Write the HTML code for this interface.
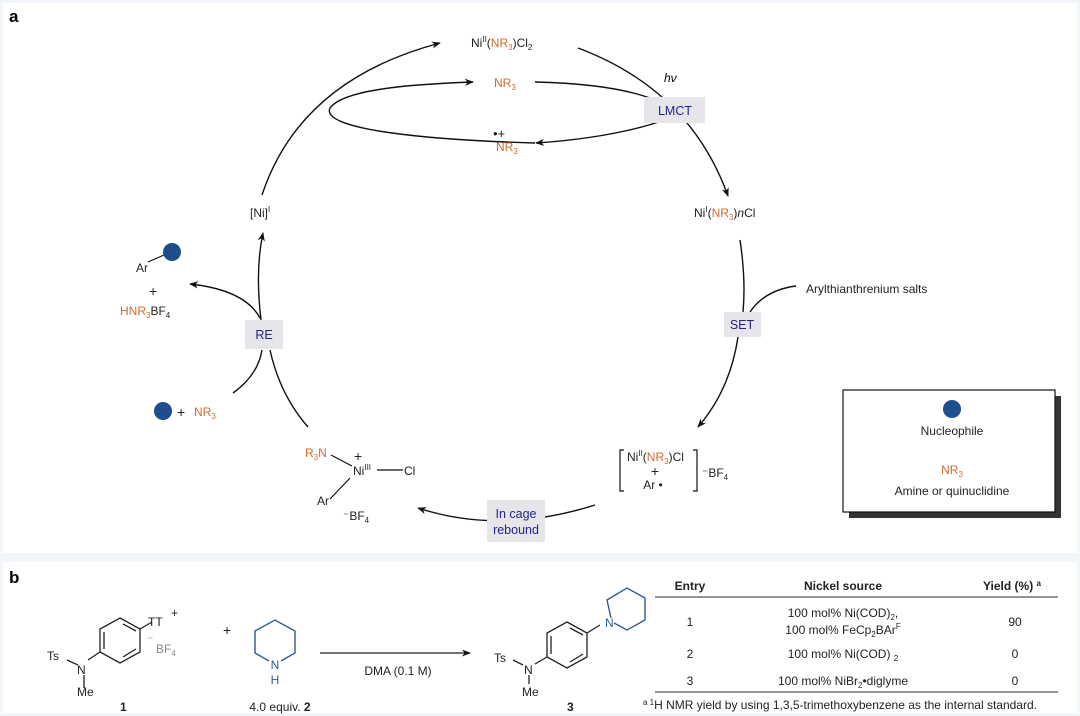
<!DOCTYPE html>
<html><head><meta charset="utf-8"><style>
html,body{margin:0;padding:0;background:#fff;}
svg{display:block;font-family:"Liberation Sans",Arial,sans-serif;}
.t{font-size:12px;fill:#222}
.o{fill:#d2692d !important}.b{fill:#22238a}
</style></head><body>
<svg width="1080" height="716" viewBox="0 0 1080 716" xmlns="http://www.w3.org/2000/svg">
<defs>
<marker id="a" viewBox="0 0 10 10" refX="9" refY="5" markerWidth="9" markerHeight="9" orient="auto-start-reverse" markerUnits="userSpaceOnUse"><path d="M0,1 L10,5 L0,9 L3,5 z" fill="#111"/></marker>
</defs>
<rect x="0" y="0" width="1080" height="716" fill="#f2f5fa"/>
<rect x="3" y="3" width="1074" height="550" fill="#fff"/>
<rect x="3" y="562" width="1074" height="151" fill="#fff"/>
<text x="9" y="22" font-size="17" font-weight="bold">a</text>
<text x="9" y="583" font-size="17" font-weight="bold">b</text>

<g fill="none" stroke="#111" stroke-width="1.4">
<path d="M262,195 Q300,80 440,43" marker-end="url(#a)"/>
<path d="M535,143 C430,140 320,130 330,108 C345,88 420,84 473,82" marker-end="url(#a)"/>
<path d="M535,82 Q620,84 660,102"/>
<path d="M662,121 Q610,138 536,143" marker-end="url(#a)"/>
<path d="M578,48 Q690,90 728,196" marker-end="url(#a)"/>
<path d="M740,240 Q746,280 743,312"/>
<path d="M796,286 Q765,290 750,312"/>
<path d="M738,337 Q730,390 698,427" marker-end="url(#a)"/>
<path d="M595,505 Q500,535 418,508" marker-end="url(#a)"/>
<path d="M261,320 Q255,270 263,233" marker-end="url(#a)"/>
<path d="M260,318 Q245,290 190,284" marker-end="url(#a)"/>
<path d="M233,393 Q258,375 262,350"/>
<path d="M270,350 Q280,395 308,427"/>
</g>

<rect x="644" y="97" width="61" height="26" fill="#e6e6ea"/>
<text x="675" y="115" text-anchor="middle" font-size="12.5" class="b">LMCT</text>
<text x="664" y="82" font-size="12" font-style="italic">hν</text>
<rect x="724" y="312" width="37" height="25" fill="#e6e6ea"/>
<text x="742" y="329" text-anchor="middle" font-size="12.5" class="b">SET</text>
<rect x="245" y="320" width="38" height="29" fill="#e6e6ea"/>
<text x="264" y="339" text-anchor="middle" font-size="12.5" class="b">RE</text>
<rect x="487" y="500" width="58" height="42" fill="#e6e6ea"/>
<text x="516" y="518" text-anchor="middle" font-size="12.5" class="b">In cage</text>
<text x="516" y="534" text-anchor="middle" font-size="12.5" class="b">rebound</text>

<g class="t">
<text x="471" y="47">Ni<tspan font-size="8" dy="-5">II</tspan><tspan dy="5">(</tspan><tspan class="o">NR</tspan><tspan class="o" font-size="8" dy="3">3</tspan><tspan dy="-3">)Cl</tspan><tspan font-size="8" dy="3">2</tspan></text>
<text x="494" y="87" class="o">NR<tspan font-size="8" dy="3">3</tspan></text>
<text x="493" y="138" font-size="13">•+</text>
<text x="496" y="151" class="o">NR<tspan font-size="8" dy="3">3</tspan></text>
<text x="694" y="217">Ni<tspan font-size="8" dy="-5">I</tspan><tspan dy="5">(</tspan><tspan class="o">NR</tspan><tspan class="o" font-size="8" dy="3">3</tspan><tspan dy="-3">)</tspan><tspan font-style="italic">n</tspan>Cl</text>
<text x="806" y="293">Arylthianthrenium salts</text>
<text x="250" y="217">[Ni]<tspan font-size="8" dy="-5">I</tspan></text>
<text x="136" y="272">Ar</text>
<text x="149" y="296" font-size="14">+</text>
<text x="120" y="315" class="o">HNR<tspan font-size="8" dy="3">3</tspan><tspan dy="-3" fill="#222">BF</tspan><tspan fill="#222" font-size="8" dy="3">4</tspan></text>
<text x="177" y="417" font-size="14">+</text>
<text x="194" y="416" class="o">NR<tspan font-size="8" dy="3">3</tspan></text>
<text x="305" y="457" class="o">R<tspan font-size="8" dy="3">3</tspan><tspan dy="-3">N</tspan></text>
<text x="354" y="461" font-size="14">+</text>
<text x="353" y="475">Ni<tspan font-size="8" dy="-5">III</tspan></text>
<text x="404" y="475">Cl</text>
<text x="317" y="505">Ar</text>
<text x="343" y="520">⁻BF<tspan font-size="8" dy="3">4</tspan></text>
<text x="627" y="461">Ni<tspan font-size="8" dy="-5">II</tspan><tspan dy="5">(</tspan><tspan class="o">NR</tspan><tspan class="o" font-size="8" dy="3">3</tspan><tspan dy="-3">)Cl</tspan></text>
<text x="655" y="476" text-anchor="middle" font-size="14">+</text>
<text x="653" y="489" text-anchor="middle">Ar •</text>
<text x="702" y="477">⁻BF<tspan font-size="8" dy="3">4</tspan></text>
</g>
<g fill="none" stroke="#111" stroke-width="1.2">
<path d="M148,262 L164,255"/>
<path d="M331,455 L352,466 M377,470 L403,470 M350,478 L330,499"/>
<path d="M624,450 L620,450 L620,491 L624,491 M693,450 L697,450 L697,491 L693,491"/>
</g>
<circle cx="172" cy="252" r="9" fill="#1f4e8c"/>
<circle cx="163" cy="411" r="9" fill="#1f4e8c"/>

<rect x="849" y="396" width="212" height="122" fill="#333"/>
<rect x="843" y="390" width="212" height="122" fill="#fff" stroke="#111" stroke-width="1.2"/>
<circle cx="952" cy="409" r="9" fill="#1f4e8c"/>
<text x="952" y="435" text-anchor="middle" class="t">Nucleophile</text>
<text x="952" y="474" text-anchor="middle" class="t o">NR<tspan font-size="8" dy="3">3</tspan></text>
<text x="952" y="495" text-anchor="middle" class="t">Amine or quinuclidine</text>

<!-- panel b -->
<g fill="none" stroke="#222" stroke-width="1.3">
<path d="M120,618 L140,629 L140,652 L120,663 L100,652 L100,629 Z"/>
<path d="M123,624 L136,631 M136,649 L123,657 M104,632 L104,649"/>
<path d="M140,629 L152,622 M100,652 L88,660 M67,660 L78,665 M84,675 L84,688"/>
<path d="M567,622 L587,633 L587,657 L567,668 L547,657 L547,633 Z"/>
<path d="M570,628 L583,635 M583,654 L570,662 M551,636 L551,654"/>
<path d="M587,633 L600,625 M547,657 L535,664 M513,660 L523,665 M529,675 L529,684"/>
<path d="M320,653 L470,653" marker-end="url(#a)"/>
</g>
<g fill="none" stroke="#2c5c94" stroke-width="1.4">
<path d="M281,661 L295,653 L295,631 L275,620 L255,631 L255,653 L269,661"/>
<path d="M611,618 L607,600 L627,588 L645,598 L645,620 L627,630 L614,623"/>
</g>
<g class="t">
<text x="148" y="626">TT</text><text x="171" y="617">+</text>
<text x="147" y="644" fill="#888">⁻</text><text x="156" y="653" fill="#888">BF<tspan font-size="8" dy="3">4</tspan></text>
<text x="47" y="660">Ts</text><text x="77" y="674">N</text><text x="77" y="696">Me</text>
<text x="120" y="711" font-weight="bold">1</text>
<text x="223" y="635" font-size="14">+</text>
<text x="275" y="669" text-anchor="middle" fill="#2c5c94">N</text>
<text x="275" y="684" text-anchor="middle" fill="#2c5c94">H</text>
<text x="280" y="711" text-anchor="middle">4.0 equiv. <tspan font-weight="bold">2</tspan></text>
<text x="398" y="675" text-anchor="middle">DMA (0.1 M)</text>
<text x="494" y="662">Ts</text><text x="524" y="674">N</text><text x="522" y="696">Me</text>
<text x="567" y="711" font-weight="bold">3</text>
<text x="605" y="627" fill="#2c5c94">N</text>
<text x="690" y="590" text-anchor="middle" font-weight="bold">Entry</text>
<text x="843" y="590" text-anchor="middle" font-weight="bold">Nickel source</text>
<text x="1012" y="590" text-anchor="middle" font-weight="bold">Yield (%) <tspan font-size="8" dy="-4">a</tspan></text>
<text x="690" y="626" text-anchor="middle">1</text>
<text x="843" y="617" text-anchor="middle">100 mol% Ni(COD)<tspan font-size="8" dy="3">2</tspan><tspan dy="-3">,</tspan></text>
<text x="843" y="634" text-anchor="middle">100 mol% FeCp<tspan font-size="8" dy="3">2</tspan><tspan dy="-3">BAr</tspan><tspan font-size="8" dy="-5">F</tspan></text>
<text x="1015" y="626" text-anchor="middle">90</text>
<text x="690" y="658" text-anchor="middle">2</text>
<text x="843" y="658" text-anchor="middle">100 mol% Ni(COD) <tspan font-size="8" dy="3">2</tspan></text>
<text x="1015" y="658" text-anchor="middle">0</text>
<text x="690" y="685" text-anchor="middle">3</text>
<text x="843" y="685" text-anchor="middle">100 mol% NiBr<tspan font-size="8" dy="3">2</tspan><tspan dy="-3">•diglyme</tspan></text>
<text x="1015" y="685" text-anchor="middle">0</text>
<text x="643" y="709"><tspan font-size="8" dy="-4">a </tspan><tspan font-size="8">1</tspan><tspan dy="4">H NMR yield by using 1,3,5-trimethoxybenzene as the internal standard.</tspan></text>
</g>
<path d="M655,597 L1058,597 M655,692 L1058,692" stroke="#555" stroke-width="1.2"/>
</svg>
</body></html>
